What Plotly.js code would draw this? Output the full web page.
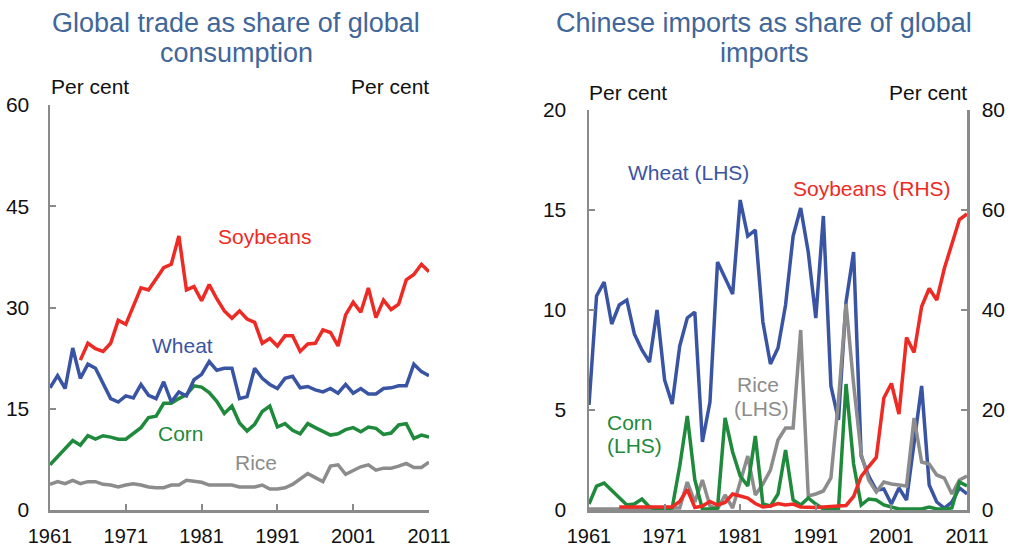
<!DOCTYPE html>
<html>
<head>
<meta charset="utf-8">
<script src="https://cdn.plot.ly/plotly-3.0.1.min.js"></script>
<style>html,body{margin:0;padding:0;background:#fff;}#chart{width:1012px;height:545px;}</style>
</head>
<body>
<div id="chart"></div>
<script>
// ---------- DATA ----------
const years = [];
for (let y = 1961; y <= 2011; y++) years.push(y);
const xTickVals = [1961, 1971, 1981, 1991, 2001, 2011];
const xTickText = ['1961', '1971', '1981', '1991', '2001', '2011'];

// Left panel: global trade as share of global consumption (per cent)
const tradeWheat = [18.1, 19.9, 18.0, 24.0, 19.5, 21.6, 21.0, 18.8, 16.5, 16.0,
  16.9, 16.6, 18.6, 17.0, 16.5, 19.0, 16.0, 17.5, 16.9, 19.3,
  20.1, 22.0, 20.7, 21.0, 21.0, 16.5, 16.8, 21.0, 19.5, 18.6,
  18.0, 19.5, 19.8, 18.1, 18.3, 17.8, 17.5, 18.0, 17.3, 18.6,
  17.3, 18.0, 17.2, 17.2, 18.0, 18.1, 18.4, 18.4, 21.6, 20.5, 19.9];
const tradeSoybeans = [null, null, null, null, 22.2, 24.7, 23.9, 23.5, 24.7, 28.1,
  27.5, 30.1, 32.9, 32.6, 34.3, 35.9, 36.4, 40.6, 32.6, 33.1,
  31.0, 33.4, 31.3, 29.5, 28.4, 29.5, 28.3, 27.8, 24.7, 25.4,
  24.3, 25.8, 25.8, 23.5, 24.6, 24.7, 26.7, 26.3, 24.3, 28.9,
  30.8, 29.3, 32.9, 28.5, 31.1, 29.7, 30.5, 34.1, 34.9, 36.4, 35.3];
const tradeCorn = [6.7, 7.9, 9.0, 10.3, 9.6, 11.0, 10.5, 11.0, 10.8, 10.5,
  10.5, 11.3, 12.2, 13.7, 13.9, 15.8, 15.8, 16.5, 17.1, 18.4,
  18.2, 17.4, 16.1, 14.3, 15.4, 12.9, 11.7, 12.7, 14.6, 15.4,
  12.3, 12.8, 11.8, 11.3, 12.8, 12.2, 11.7, 11.1, 11.3, 11.9,
  12.2, 11.6, 12.3, 12.1, 11.2, 11.4, 12.6, 12.8, 10.6, 11.1, 10.8];
const tradeRice = [3.8, 4.2, 3.9, 4.4, 3.9, 4.2, 4.2, 3.8, 3.7, 3.4,
  3.7, 3.9, 3.7, 3.4, 3.3, 3.3, 3.7, 3.7, 4.4, 4.2,
  4.1, 3.7, 3.7, 3.7, 3.7, 3.4, 3.4, 3.4, 3.7, 3.1,
  3.1, 3.3, 3.8, 4.6, 5.4, 4.8, 4.2, 6.5, 6.7, 5.3,
  5.8, 6.4, 6.7, 5.9, 6.2, 6.2, 6.5, 6.9, 6.3, 6.3, 7.1];

// Right panel: Chinese imports as share of global imports (per cent)
const chinaWheat = [5.25, 10.7, 11.4, 9.3, 10.25, 10.5, 8.8, 8.0, 7.4, 10.0,
  6.5, 5.3, 8.2, 9.6, 9.9, 3.4, 5.4, 12.4, 11.6, 10.8,
  15.5, 13.7, 14.0, 9.4, 7.3, 8.1, 10.25, 13.7, 15.1, 12.9,
  9.6, 14.7, 6.2, 4.5, 10.4, 12.9, 2.7, 1.7, 1.0, 1.05,
  0.3, 1.1, 0.5, 3.3, 6.2, 1.25, 0.4, 0.1, 0.4, 1.1, 0.8];
const chinaSoybeans = [null, null, null, null, 0.6, 0.6, 0.6, 0.6, 0.6, 0.6,
  0.6, 0.6, 1.7, 4.1, 0.5, 0.8, 1.7, 1.0, 1.5, 3.2,
  2.8, 2.4, 1.3, 0.6, 0.8, 1.3, 1.0, 1.2, 0.6, 0.5,
  0.5, 0.6, 0.7, 0.9, 0.9, 2.7, 6.7, 8.7, 10.5, 22.4,
  25.3, 19.2, 34.5, 31.5, 40.7, 44.3, 42.0, 48.3, 53.3, 58.1, 59.2];
const chinaCorn = [0.3, 1.2, 1.35, 1.0, 0.6, 0.25, 0.3, 0.55, 0.15, 0.05,
  0.05, 0.1, 2.2, 4.7, 1.5, 0.05, 0.05, 0.1, 4.6, 2.9,
  1.7, 1.2, 3.7, 0.3, 0.2, 0.8, 3.0, 0.5, 0.25, 0.6,
  0.3, 0.05, 0.05, 0.05, 6.3, 2.3, 0.25, 0.55, 0.5, 0.25,
  0.15, 0.05, 0.05, 0.05, 0.05, 0.15, 0.05, 0.05, 0.1, 1.4, 1.2];
const chinaRice = [0.05, 0.05, 0.05, 0.05, 0.05, 0.05, 0.05, 0.05, 0.05, 0.05,
  0.1, 0.1, 0.1, 1.4, 0.4, 1.5, 0.2, 0.05, 0.75, 0.1,
  1.4, 2.7, 0.75, 1.3, 2.0, 3.5, 4.1, 4.1, 9.0, 0.7,
  0.8, 0.95, 1.6, 5.5, 10.3, 6.3, 2.8, 1.5, 0.9, 1.4,
  1.3, 1.25, 1.2, 4.6, 2.4, 2.3, 1.75, 1.6, 0.8, 1.5, 1.7];

const leftTicks = [0, 15, 30, 45, 60];
const rightLhsTicks = [0, 5, 10, 15, 20];
const rightRhsTicks = [0, 20, 40, 60, 80];

// ---------- STYLE ----------
const W = 1012, H = 545;
const FONT = '"Liberation Sans", Arial, sans-serif';
const C = {wheat: '#3a54a4', soy: '#ee2a24', corn: '#1f8a3b', rice: '#8c8c8c', title: '#41669a', axis: '#8a8a8a'};
const LW = 3.5;
const px = v => v / W;
const py = v => 1 - v / H;

function line(x, y, color, xa, ya) {
  return {x: x, y: y, type: 'scatter', mode: 'lines', xaxis: xa, yaxis: ya,
    line: {color: color, width: LW}, cliponaxis: false, hoverinfo: 'skip', connectgaps: false};
}

const traces = [
  line(years, tradeRice, C.rice, 'x', 'y'),
  line(years, tradeCorn, C.corn, 'x', 'y'),
  line(years, tradeWheat, C.wheat, 'x', 'y'),
  line(years, tradeSoybeans, C.soy, 'x', 'y'),
  line(years, chinaWheat, C.wheat, 'x2', 'y3'),
  line(years, chinaRice, C.rice, 'x2', 'y3'),
  line(years, chinaCorn, C.corn, 'x2', 'y3'),
  line(years, chinaSoybeans, C.soy, 'x2', 'y4')
];

function xAxis(domain, anchor) {
  return {domain: domain, anchor: anchor, range: [1961, 2011], tickvals: xTickVals, ticktext: xTickText,
    ticks: 'inside', ticklen: 6, tickwidth: 2, tickcolor: C.axis, showline: true, linecolor: C.axis, linewidth: 2.5,
    showgrid: false, zeroline: false, tickfont: {family: FONT, size: 20, color: '#111'}, ticklabelstandoff: 6, fixedrange: true};
}
function yAxis(domain, anchor, range, ticks, side, standoff, overlay) {
  const a = {domain: domain, anchor: anchor, range: range, tickvals: ticks, side: side,
    ticks: 'inside', ticklen: 6, tickwidth: 2, tickcolor: C.axis, showline: true, linecolor: C.axis, linewidth: 2.5,
    showgrid: false, zeroline: false, tickfont: {family: FONT, size: 21, color: '#111'}, ticklabelstandoff: standoff, fixedrange: true};
  if (overlay) { a.overlaying = overlay; delete a.domain; }
  return a;
}

function ann(text, x, y, color, size, xanchor) {
  return {text: text, x: px(x), y: py(y), xref: 'paper', yref: 'paper', showarrow: false,
    xanchor: xanchor || 'center', yanchor: 'middle', font: {family: FONT, size: size, color: color}};
}

const annotations = [
  ann('Global trade as share of global', 236, 23, C.title, 27),
  ann('consumption', 236, 53, C.title, 27),
  ann('Chinese imports as share of global', 764, 23, C.title, 27),
  ann('imports', 764, 53, C.title, 27),
  ann('Per cent', 49, 86, '#111', 21, 'left'),
  ann('Per cent', 431, 86, '#111', 21, 'right'),
  ann('Per cent', 587, 92, '#111', 21, 'left'),
  ann('Per cent', 969, 92, '#111', 21, 'right'),
  ann('Soybeans', 264, 237, C.soy, 21),
  ann('Wheat', 182, 345, C.wheat, 21),
  ann('Corn', 181, 433, C.corn, 21),
  ann('Rice', 256, 462, C.rice, 21),
  ann('Wheat (LHS)', 688, 173, C.wheat, 21),
  ann('Soybeans (RHS)', 872, 189, C.soy, 21),
  ann('Rice', 758, 384, C.rice, 21),
  ann('(LHS)', 761, 408, C.rice, 21),
  ann('Corn', 630, 422, C.corn, 21),
  ann('(LHS)', 634, 445, C.corn, 21)
];

const layout = {
  width: W, height: H,
  margin: {l: 0, r: 0, t: 0, b: 0, pad: 0},
  paper_bgcolor: '#fff', plot_bgcolor: 'rgba(0,0,0,0)',
  showlegend: false,
  font: {family: FONT},
  xaxis: xAxis([px(50), px(429)], 'y'),
  yaxis: yAxis([1 - 510 / H, 1 - 105 / H], 'x', [0, 60], leftTicks, 'left', 14),
  yaxis2: yAxis(null, 'x', [0, 60], leftTicks, 'right', 16, 'y'),
  xaxis2: xAxis([px(589), px(967)], 'y3'),
  yaxis3: yAxis([1 - 510 / H, 1 - 110 / H], 'x2', [0, 20], rightLhsTicks, 'left', 16),
  yaxis4: yAxis(null, 'x2', [0, 80], rightRhsTicks, 'right', 8, 'y3'),
  annotations: annotations
};

Plotly.newPlot('chart', traces, layout, {displayModeBar: false, staticPlot: true});
</script>
</body>
</html>
